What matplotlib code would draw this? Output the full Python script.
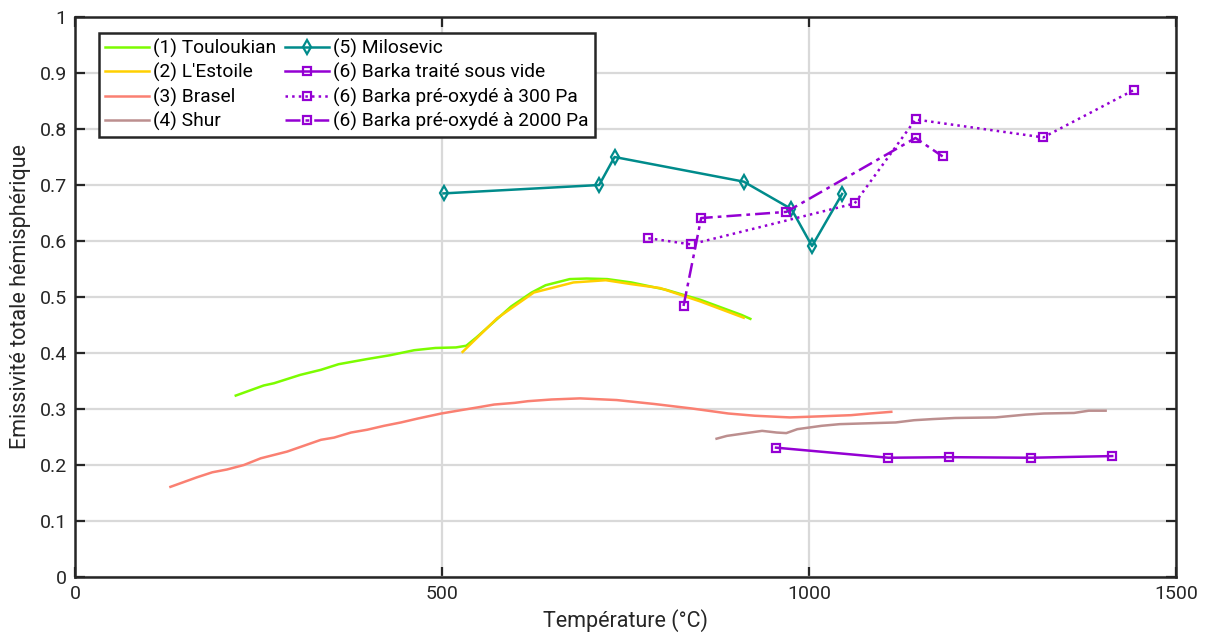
import matplotlib
matplotlib.use("Agg")
import matplotlib.pyplot as plt
import numpy as np

plt.rcParams['font.family'] = ['Roboto', 'DejaVu Sans']

# (1) Touloukian
toul_T = [219, 257, 271, 307, 335, 359, 397, 429, 462, 491, 519, 533, 547, 571, 594,
          622, 641, 674, 697, 725, 758, 805, 852, 908, 920]
toul_e = [0.324, 0.342, 0.346, 0.361, 0.370, 0.380, 0.389, 0.396, 0.405, 0.409, 0.410,
          0.413, 0.428, 0.456, 0.483, 0.508, 0.521, 0.532, 0.533, 0.532, 0.526, 0.513,
          0.495, 0.468, 0.461]

# (2) L'Estoile
lest_T = [528, 575, 625, 679, 723, 758, 797, 852, 911]
lest_e = [0.402, 0.462, 0.508, 0.526, 0.530, 0.523, 0.516, 0.492, 0.463]

# (3) Brasel
bras_T = [130, 166, 187, 207, 230, 253, 289, 335, 353, 376, 398, 421, 444, 467, 499, 526,
          549, 571, 599, 617, 649, 688, 738, 789, 840, 890, 926, 974, 1017, 1057, 1083, 1112]
bras_e = [0.161, 0.178, 0.187, 0.192, 0.200, 0.212, 0.224, 0.245, 0.249, 0.258, 0.263,
          0.270, 0.276, 0.283, 0.292, 0.298, 0.303, 0.308, 0.311, 0.314, 0.317, 0.319,
          0.316, 0.309, 0.301, 0.292, 0.288, 0.285, 0.287, 0.289, 0.292, 0.295]

# (4) Shur
shur_T = [874, 888, 936, 956, 969, 984, 1017, 1042, 1067, 1118, 1143, 1168, 1199, 1254,
          1295, 1320, 1361, 1381, 1404]
shur_e = [0.247, 0.252, 0.261, 0.258, 0.257, 0.264, 0.270, 0.273, 0.274, 0.276, 0.280,
          0.282, 0.284, 0.285, 0.290, 0.292, 0.293, 0.297, 0.297]

# (5) Milosevic
milo_T = [502, 714, 735, 911, 976, 1004, 1045]
milo_e = [0.685, 0.700, 0.750, 0.706, 0.657, 0.591, 0.684]

# (6) Barka
vide_T = [955, 1108, 1191, 1303, 1413]
vide_e = [0.231, 0.213, 0.214, 0.213, 0.216]

p300_T = [781, 839, 1062, 1145, 1319, 1443]
p300_e = [0.605, 0.594, 0.667, 0.817, 0.785, 0.870]

p2000_T = [829, 853, 969, 1145, 1182]
p2000_e = [0.484, 0.641, 0.652, 0.784, 0.751]

labels = ["(1) Touloukian", "(2) L'Estoile", "(3) Brasel", "(4) Shur",
          "(5) Milosevic", "(6) Barka traité sous vide",
          "(6) Barka pré-oxydé à 300 Pa", "(6) Barka pré-oxydé à 2000 Pa"]

purple = '#9400D3'
dark = '#262626'

fig = plt.figure(figsize=(12.06, 6.44), dpi=100)
ax = fig.add_axes([0.0622, 0.104, 0.913, 0.8696])

lw = 1.8
ax.plot(toul_T, toul_e, color='#7CFC00', lw=lw, label=labels[0])
ax.plot(lest_T, lest_e, color='#FFD000', lw=lw, label=labels[1])
ax.plot(bras_T, bras_e, color='#FA8072', lw=lw, label=labels[2])
ax.plot(shur_T, shur_e, color='#BC8F8F', lw=lw, label=labels[3])
ax.plot(milo_T, milo_e, color='#008B8B', lw=lw, marker='d', ms=7.5, mfc='none',
        mew=1.6, label=labels[4])
ax.plot(vide_T, vide_e, color=purple, lw=lw, marker='s', ms=5.5, mfc='none',
        mew=1.6, label=labels[5])
ax.plot(p300_T, p300_e, color=purple, lw=lw, ls=':', marker='s', ms=5.5, mfc='none',
        mew=1.6, label=labels[6])
ax.plot(p2000_T, p2000_e, color=purple, lw=lw, ls=(0, (6, 2, 1.5, 2)), marker='s', ms=5.5,
        mfc='none', mew=1.6, label=labels[7])

ax.set_xlim(0, 1500)
ax.set_ylim(0, 1)
ax.set_xticks([0, 500, 1000, 1500])
ax.set_yticks(np.arange(0, 1.01, 0.1))
ax.set_yticklabels(['0', '0.1', '0.2', '0.3', '0.4', '0.5', '0.6', '0.7', '0.8', '0.9', '1'])

ax.grid(True, color='#D9D9D9', lw=1.6)
ax.set_axisbelow(True)
ax.tick_params(direction='in', length=7, width=1.6, top=True, right=True,
               labelsize=14, colors=dark, pad=6)
for s in ax.spines.values():
    s.set_linewidth(1.8)
    s.set_color(dark)

ax.set_xlabel('Température (°C)', fontsize=15.5, color=dark, labelpad=4)
ax.set_ylabel('Emissivité totale hémisphérique', fontsize=15.5, color=dark, labelpad=6)

leg = ax.legend(ncol=2, loc='upper left', bbox_to_anchor=(0.022, 0.972), borderaxespad=0,
                fontsize=13.8, frameon=True, fancybox=False, framealpha=1,
                edgecolor=dark, handlelength=2.3, handletextpad=0.2, columnspacing=0.45,
                labelspacing=0.27, borderpad=0.32)
leg.get_frame().set_linewidth(1.8)

fig.savefig('out.png', dpi=100)
